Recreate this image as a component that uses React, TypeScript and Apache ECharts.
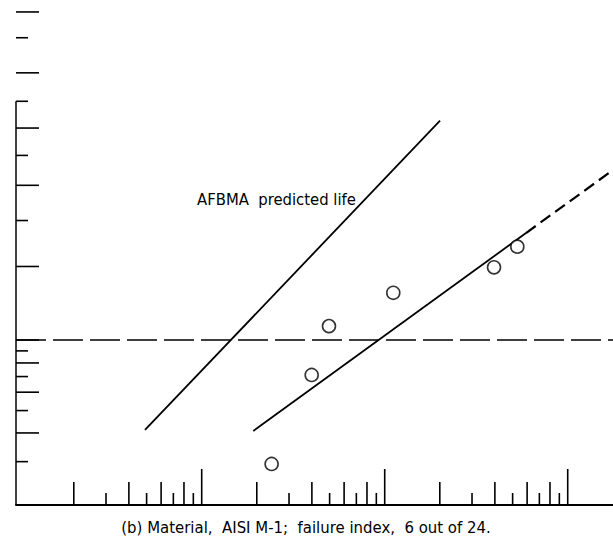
import React, { useEffect, useRef } from "react";
import * as echarts from "echarts";

// ---- axis extents (life on log scale, percent failed on Weibull scale) ----
const X_MIN = 0.9666;
const X_MAX = 1768;
const Y_MIN_PCT = 1.938;
const Y_MAX_PCT = 96.61;
const AXIS_LINE_TOP_PCT = 70;

// ---- tick values ----
const xTicksLong = [10, 100, 1000];
const xTicksMid = [2, 4, 6, 8, 20, 40, 60, 80, 200, 400, 600, 800];
const xTicksShort = [3, 5, 7, 9, 30, 50, 70, 90, 300, 500, 700, 900];
const yTicksLong = [95, 80, 60, 40, 20, 10, 8, 6, 4];
const yTicksShort = [90, 70, 50, 30, 9, 7, 5, 3];

// ---- data ----
const failureLives = [24.1, 39.9, 49.6, 111.4, 395.7, 530.4];
const failurePercents = [2.93, 7.11, 11.44, 15.69, 19.85, 23.9];

const afbmaLives = [4.9, 200.6];
const afbmaPercents = [4.12, 62.75];

const fitSolidLives = [19.14, 591.6];
const fitSolidPercents = [4.08, 26.94];
const fitDashLives = [591.6, 1768];
const fitDashPercents = [26.94, 44.96];

const l10Percent = 10;

const labelText = "AFBMA  predicted life";
const captionText = "(b) Material,  AISI M-1;  failure index,  6 out of 24.";

const FONT = "'DejaVu Sans Condensed', 'DejaVu Sans', sans-serif";

const lnln = (pct: number) => Math.log(-Math.log(1 - pct / 100));

const TICK_LEN = [12, 23, 36];

export default function App() {
  const ref = useRef<HTMLDivElement>(null);

  useEffect(() => {
    if (!ref.current) return;
    const chart = echarts.init(ref.current, null, { renderer: "svg" });
    const yBottom = lnln(Y_MIN_PCT);

    const xTickData = [
      ...xTicksShort.map((v) => [v, yBottom, 0]),
      ...xTicksMid.map((v) => [v, yBottom, 1]),
      ...xTicksLong.map((v) => [v, yBottom, 2]),
    ];
    const yTickData = [
      ...yTicksShort.map((p) => [X_MIN, lnln(p), 0]),
      ...yTicksLong.map((p) => [X_MIN, lnln(p), 1]),
    ];

    const lineStyleBase = { color: "#000", width: 1.8 };

    chart.setOption({
      animation: false,
      backgroundColor: "#fff",
      grid: { left: 16, right: 0, top: 0, bottom: 45, containLabel: false },
      xAxis: {
        type: "log",
        logBase: 10,
        min: X_MIN,
        max: X_MAX,
        axisLine: { show: true, onZero: false, lineStyle: { color: "#000", width: 2 } },
        axisTick: { show: false },
        axisLabel: { show: false },
        splitLine: { show: false },
        minorTick: { show: false },
      },
      yAxis: {
        type: "value",
        min: lnln(Y_MIN_PCT),
        max: lnln(Y_MAX_PCT),
        axisLine: { show: false },
        axisTick: { show: false },
        axisLabel: { show: false },
        splitLine: { show: false },
      },
      graphic: [
        {
          type: "text",
          x: 197,
          y: 199,
          style: {
            text: labelText,
            fontFamily: FONT,
            fontSize: 16.5,
            fill: "#000",
            verticalAlign: "middle",
          },
        },
        {
          type: "text",
          x: 306,
          y: 527,
          style: {
            text: captionText,
            fontFamily: FONT,
            fontSize: 16.6,
            fill: "#000",
            align: "center",
            verticalAlign: "middle",
          },
        },
      ],
      series: [
        {
          type: "custom",
          silent: true,
          clip: false,
          renderItem: (_p: any, api: any) => {
            const pt = api.coord([api.value(0), api.value(1)]);
            const len = TICK_LEN[api.value(2)];
            return {
              type: "line",
              shape: { x1: pt[0], y1: pt[1], x2: pt[0], y2: pt[1] - len },
              style: { stroke: "#000", lineWidth: 1.6 },
            };
          },
          data: xTickData,
        },
        {
          type: "custom",
          silent: true,
          clip: false,
          renderItem: (_p: any, api: any) => {
            const pt = api.coord([api.value(0), api.value(1)]);
            const len = api.value(2) === 1 ? 23 : 12;
            return {
              type: "line",
              shape: { x1: pt[0], y1: pt[1], x2: pt[0] + len, y2: pt[1] },
              style: { stroke: "#000", lineWidth: 1.6 },
            };
          },
          data: yTickData,
        },
        {
          type: "line",
          silent: true,
          symbol: "none",
          clip: false,
          lineStyle: { color: "#000", width: 1.5 },
          data: [
            [X_MIN, lnln(AXIS_LINE_TOP_PCT)],
            [X_MIN, yBottom],
          ],
        },
        {
          type: "line",
          silent: true,
          symbol: "none",
          lineStyle: { color: "#000", width: 1.5, type: [30, 7] },
          data: [
            [X_MIN, lnln(l10Percent)],
            [X_MAX, lnln(l10Percent)],
          ],
        },
        {
          type: "line",
          silent: true,
          symbol: "none",
          lineStyle: lineStyleBase,
          data: afbmaLives.map((v, i) => [v, lnln(afbmaPercents[i])]),
        },
        {
          type: "line",
          silent: true,
          symbol: "none",
          lineStyle: lineStyleBase,
          data: fitSolidLives.map((v, i) => [v, lnln(fitSolidPercents[i])]),
        },
        {
          type: "line",
          silent: true,
          symbol: "none",
          lineStyle: { color: "#000", width: 2.2, type: [12, 6] },
          data: fitDashLives.map((v, i) => [v, lnln(fitDashPercents[i])]),
        },
        {
          type: "scatter",
          silent: true,
          symbol: "circle",
          symbolSize: 13,
          itemStyle: { color: "#fff", borderColor: "#000", borderWidth: 1.6 },
          data: failureLives.map((v, i) => [v, lnln(failurePercents[i])]),
          z: 5,
        },
      ],
    });
    return () => chart.dispose();
  }, []);

  return (
    <div
      ref={ref}
      style={{ position: "fixed", left: 0, top: 0, width: 613, height: 550, background: "#fff" }}
    />
  );
}
